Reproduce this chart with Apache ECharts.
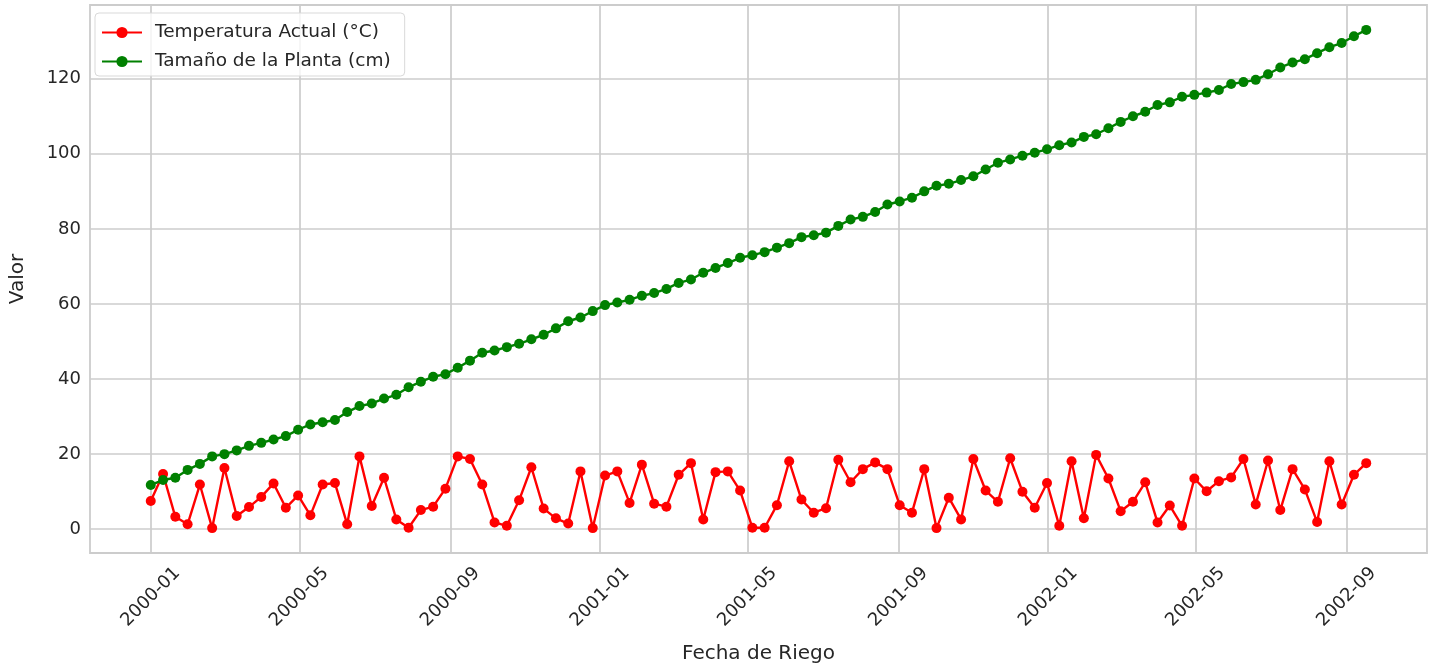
<!DOCTYPE html>
<html>
<head>
<meta charset="utf-8">
<script src="https://cdn.jsdelivr.net/npm/echarts@6/dist/echarts.min.js"></script>
<style>
html,body{margin:0;padding:0;background:#fff;}
#chart{width:1435px;height:669px;}
</style>
</head>
<body>
<div id="chart"></div>
<script>
// Watering dates: every 10 days starting 2000-01-01 (100 readings)
const START_DATE = '2000-01-01';
const STEP_DAYS = 10;
const N_POINTS = 100;

const temperatura = [
  7.5, 14.7, 3.3, 1.3, 11.9, 0.3, 16.3, 3.5, 5.9, 8.6,
  12.2, 5.7, 9.0, 3.7, 11.9, 12.3, 1.3, 19.4, 6.2, 13.7,
  2.6, 0.4, 5.1, 6.0, 10.8, 19.4, 18.7, 11.9, 1.8, 0.9,
  7.7, 16.5, 5.5, 2.9, 1.5, 15.4, 0.3, 14.3, 15.4, 7.0,
  17.2, 6.8, 6.0, 14.5, 17.6, 2.6, 15.2, 15.4, 10.3, 0.4,
  0.4, 6.4, 18.1, 7.9, 4.4, 5.6, 18.5, 12.5, 16.0, 17.8,
  16.0, 6.4, 4.4, 16.0, 0.3, 8.4, 2.6, 18.7, 10.3, 7.3,
  18.9, 10.0, 5.7, 12.3, 0.9, 18.1, 2.9, 19.8, 13.5, 4.8,
  7.3, 12.5, 1.8, 6.3, 0.9, 13.5, 10.1, 12.8, 13.8, 18.7,
  6.6, 18.3, 5.1, 16.0, 10.6, 1.9, 18.1, 6.6, 14.5, 17.6
];

const tamano = [
  11.8, 13.1, 13.7, 15.8, 17.4, 19.4, 20.0, 21.0, 22.2, 23.0,
  23.9, 24.8, 26.5, 27.9, 28.5, 29.1, 31.2, 32.8, 33.5, 34.8,
  35.8, 37.8, 39.3, 40.6, 41.3, 43.0, 44.9, 47.0, 47.6, 48.5,
  49.4, 50.6, 51.8, 53.5, 55.4, 56.4, 58.1, 59.7, 60.4, 61.1,
  62.2, 62.9, 64.0, 65.6, 66.5, 68.3, 69.6, 70.9, 72.3, 73.0,
  73.8, 75.0, 76.2, 77.8, 78.3, 79.0, 80.8, 82.5, 83.2, 84.5,
  86.5, 87.3, 88.3, 90.0, 91.5, 92.0, 93.0, 94.0, 95.8, 97.6,
  98.5, 99.5, 100.3, 101.2, 102.3, 103.0, 104.5, 105.2, 106.8, 108.5,
  110.0, 111.2, 113.0, 113.7, 115.2, 115.7, 116.3, 117.0, 118.6, 119.1,
  119.7, 121.2, 123.0, 124.3, 125.2, 126.8, 128.4, 129.5, 131.3, 133.0
];

const xTickLabels = ['2000-01','2000-05','2000-09','2001-01','2001-05','2001-09','2002-01','2002-05','2002-09'];
const yTicks = [0, 20, 40, 60, 80, 100, 120];

const DAY = 86400000;
function parseYM(s) { const p = s.split('-'); return Date.UTC(+p[0], +p[1] - 1, p[2] ? +p[2] : 1); }
const t0 = parseYM(START_DATE);
const dates = [];
for (let i = 0; i < N_POINTS; i++) dates.push(t0 + i * STEP_DAYS * DAY);
const xTickValues = xTickLabels.map(parseYM);

const span = dates[dates.length - 1] - dates[0];
const xMin = dates[0] - span * 0.05;
const xMax = dates[dates.length - 1] + span * 0.05;
const allY = temperatura.concat(tamano);
const yLo = Math.min.apply(null, allY), yHi = Math.max.apply(null, allY);
const yMin = yLo - (yHi - yLo) * 0.05;
const yMax = yHi + (yHi - yLo) * 0.05;

function fmtYM(v) {
  const d = new Date(v);
  const m = d.getUTCMonth() + 1;
  return d.getUTCFullYear() + '-' + (m < 10 ? '0' + m : m);
}

const FONT = 'DejaVu Sans';
const TXT = '#262626';
const GRIDC = '#cccccc';

const chart = echarts.init(document.getElementById('chart'), null, { renderer: 'canvas' });
chart.setOption({
  animation: false,
  backgroundColor: '#ffffff',
  textStyle: { fontFamily: FONT, color: TXT },
  grid: {
    left: 88, right: 8, top: 5, bottom: 116,
    show: true, borderColor: GRIDC, borderWidth: 1.8, backgroundColor: 'transparent'
  },
  legend: {
    orient: 'vertical',
    left: 95, top: 13,
    padding: [10, 14, 5, 6],
    itemWidth: 40, itemHeight: 14, itemGap: 10,
    backgroundColor: 'rgba(255,255,255,0.8)',
    borderColor: '#d9d9d9', borderWidth: 1, borderRadius: 4,
    textStyle: { fontFamily: FONT, fontSize: 18.5, color: TXT, padding: [0, 0, 0, 8] },
    data: ['Temperatura Actual (°C)', 'Tamaño de la Planta (cm)']
  },
  xAxis: {
    type: 'value',
    min: xMin, max: xMax,
    name: 'Fecha de Riego',
    nameLocation: 'middle',
    nameGap: 91,
    nameTextStyle: { fontFamily: FONT, fontSize: 20, color: TXT },
    axisLine: { show: false },
    axisTick: { show: false, customValues: xTickValues },
    axisLabel: {
      customValues: xTickValues,
      formatter: fmtYM,
      rotate: 45,
      align: 'center',
      verticalAlign: 'middle',
      margin: 44,
      fontFamily: FONT, fontSize: 18, color: TXT
    },
    splitLine: { show: true, lineStyle: { color: GRIDC, width: 1.7 } }
  },
  yAxis: {
    type: 'value',
    min: yMin, max: yMax,
    name: 'Valor',
    nameLocation: 'middle',
    nameGap: 62,
    nameTextStyle: { fontFamily: FONT, fontSize: 20, color: TXT },
    axisLine: { show: false },
    axisTick: { show: false, customValues: yTicks },
    axisLabel: { customValues: yTicks, margin: 9, fontFamily: FONT, fontSize: 18, color: TXT },
    splitLine: { show: true, lineStyle: { color: GRIDC, width: 1.7 } }
  },
  series: [
    {
      name: 'Temperatura Actual (°C)',
      type: 'line',
      data: dates.map((d, i) => [d, temperatura[i]]),
      symbol: 'circle', symbolSize: 10, showSymbol: true,
      itemStyle: { color: '#ff0000' },
      lineStyle: { color: '#ff0000', width: 2.4 },
      z: 2
    },
    {
      name: 'Tamaño de la Planta (cm)',
      type: 'line',
      data: dates.map((d, i) => [d, tamano[i]]),
      symbol: 'circle', symbolSize: 10, showSymbol: true,
      itemStyle: { color: '#008000' },
      lineStyle: { color: '#008000', width: 2.4 },
      z: 3
    }
  ]
});
</script>
</body>
</html>
